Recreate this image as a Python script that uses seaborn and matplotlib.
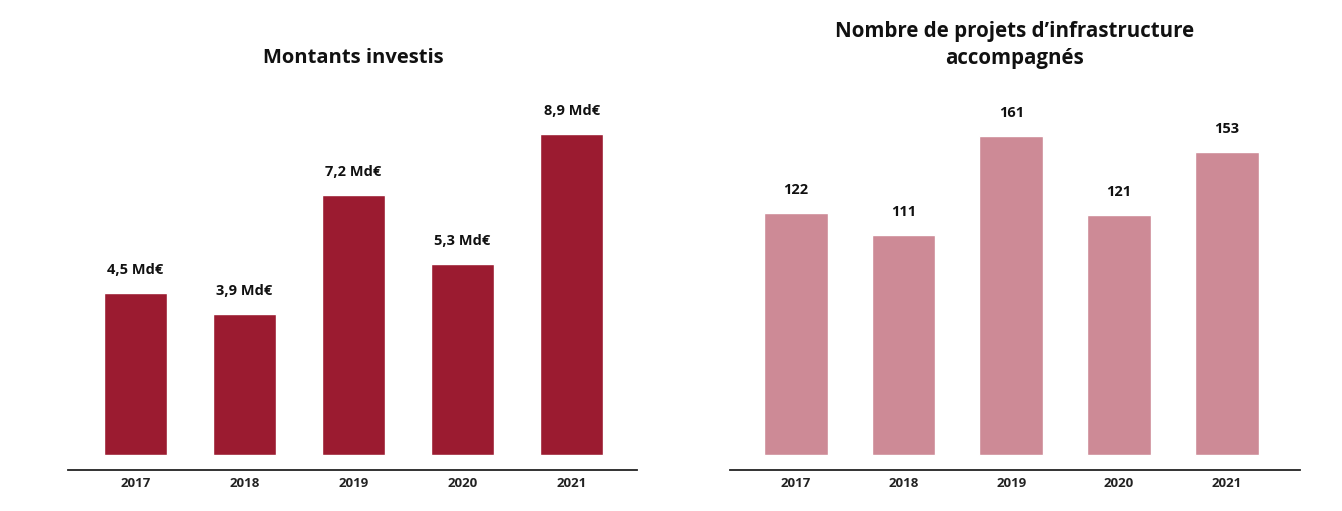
import matplotlib
matplotlib.use("Agg")
import matplotlib.pyplot as plt
import seaborn as sns
import pandas as pd

years = ["2017", "2018", "2019", "2020", "2021"]
montants = [4.5, 3.9, 7.2, 5.3, 8.9]
montant_labels = ["4,5 Md€", "3,9 Md€", "7,2 Md€", "5,3 Md€", "8,9 Md€"]
projets = [122, 111, 161, 121, 153]
projet_labels = ["122", "111", "161", "121", "153"]

title_left = "Montants investis"
title_right = "Nombre de projets d’infrastructure\naccompagnés"

sns.set_theme(style="white")
plt.rcParams["font.family"] = ["Open Sans", "DejaVu Sans"]

W, H = 1342, 511
fig = plt.figure(figsize=(W / 100, H / 100), dpi=100)

def px_axes(x0, x1, y_top, y_bot):
    return fig.add_axes([x0 / W, (H - y_bot) / H, (x1 - x0) / W, (y_bot - y_top) / H])

ax1 = px_axes(68, 637, 90, 470)
ax2 = px_axes(730, 1300, 90, 470)

df1 = pd.DataFrame({"year": years, "val": montants})
df2 = pd.DataFrame({"year": years, "val": projets})

sns.barplot(data=df1, x="year", y="val", color="#9B1B30", saturation=1, width=0.58, ax=ax1)
sns.barplot(data=df2, x="year", y="val", color="#CD8A96", saturation=1, width=0.59, ax=ax2)

# scales: left 36.1 px/unit, right 1.98 px/unit; zero at 455 px, axis line at 470 px
ax1.set_ylim(-15 / 36.1, 365 / 36.1)
ax2.set_ylim(-15 / 1.98, 365 / 1.98)
ax1.set_xlim(-0.62, 4.6)
ax2.set_xlim(-0.61, 4.68)

for ax, labels in ((ax1, montant_labels), (ax2, projet_labels)):
    for p, lab in zip(ax.patches, labels):
        ax.annotate(lab, (p.get_x() + p.get_width() / 2, p.get_height()),
                    xytext=(0, 16), textcoords="offset pixels",
                    ha="center", va="bottom", fontsize=10.5, fontweight="bold", color="#111111")
    for s in ("top", "right", "left"):
        ax.spines[s].set_visible(False)
    ax.spines["bottom"].set_color("#222222")
    ax.spines["bottom"].set_linewidth(1.3)
    ax.set_yticks([])
    ax.set_xlabel("")
    ax.set_ylabel("")
    ax.tick_params(axis="x", length=0, pad=5)
    for t in ax.get_xticklabels():
        t.set_fontsize(9.5)
        t.set_fontweight("bold")
        t.set_color("#222222")

fig.text(353 / W, 1 - 58 / H, title_left, ha="center", va="center",
         fontsize=14.5, fontweight="bold", color="#111111")
fig.text(1015 / W, 1 - 45 / H, title_right, ha="center", va="center",
         fontsize=14.8, fontweight="bold", color="#111111", linespacing=1.35)

fig.savefig("out.png", dpi=100, facecolor="white")
